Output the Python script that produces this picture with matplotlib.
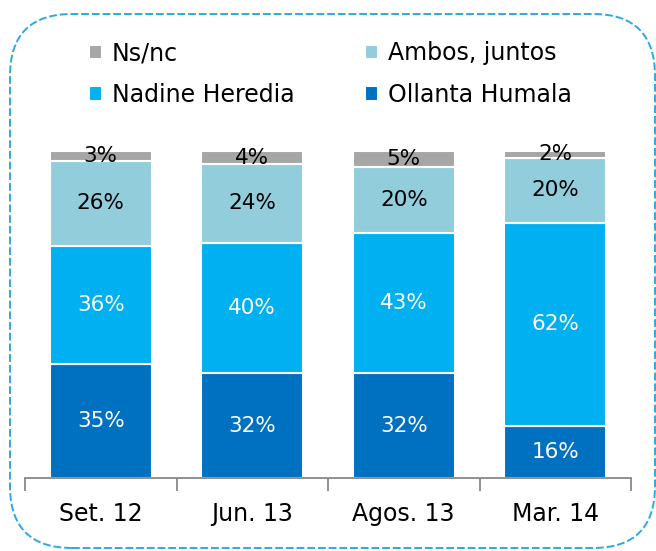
import matplotlib
matplotlib.use('Agg')
import matplotlib.pyplot as plt
import numpy as np
from matplotlib.patches import FancyBboxPatch

plt.rcParams['font.family'] = ['DejaVu Sans']

# Datos
categorias = ['Set. 12', 'Jun. 13', 'Agos. 13', 'Mar. 14']
ollanta = [35, 32, 32, 16]
nadine = [36, 40, 43, 62]
ambos = [26, 24, 20, 20]
nsnc = [3, 4, 5, 2]

series = [
    ('Ollanta Humala', ollanta, '#0070C0', 'white'),
    ('Nadine Heredia', nadine, '#00B0F0', 'white'),
    ('Ambos, juntos', ambos, '#92CDDC', 'black'),
    ('Ns/nc', nsnc, '#A6A6A6', 'black'),
]

fig = plt.figure(figsize=(6.56, 5.51), dpi=100)

# Marco redondeado punteado (en pixeles)
bg = fig.add_axes([0, 0, 1, 1])
bg.set_xlim(0, 656)
bg.set_ylim(0, 551)
bg.axis('off')
marco = FancyBboxPatch((10, 3), 645, 534, boxstyle='round,pad=0,rounding_size=62',
                       fill=False, edgecolor='#2AAAE4', linestyle=(0, (4, 1.5)), linewidth=1.4)
bg.add_patch(marco)

ax = fig.add_axes([25 / 656, 73 / 551, 606 / 656, 327 / 551])
x = np.arange(len(categorias))
bottom = np.zeros(len(categorias))
handles = {}
for nombre, vals, color, tcolor in series:
    vals = np.array(vals, dtype=float)
    b = ax.bar(x, vals, bottom=bottom, width=0.67, color=color, edgecolor='white', linewidth=1.5)
    handles[nombre] = b
    for xi, v, b0 in zip(x, vals, bottom):
        ax.text(xi, b0 + v / 2, f'{int(v)}%', ha='center', va='center', fontsize=15.5, color=tcolor)
    bottom += vals

ax.set_xlim(-0.5, len(categorias) - 0.5)
ax.set_ylim(0, 100)
for s in ['top', 'right', 'left']:
    ax.spines[s].set_visible(False)
ax.spines['bottom'].set_color('#888888')
ax.spines['bottom'].set_linewidth(1.3)
ax.set_yticks([])
ax.set_xticks(np.arange(-0.5, len(categorias)), minor=False)
ax.set_xticklabels([])
ax.tick_params(axis='x', which='major', length=9, width=1.3, color='#888888', direction='out')
ax.set_xticks(x, minor=True)
ax.set_xticklabels(categorias, minor=True, fontsize=17)
ax.tick_params(axis='x', which='minor', length=0, pad=17)

# columnas: Ns/nc, Nadine | Ambos, Ollanta
orden = ['Ns/nc', 'Nadine Heredia', 'Ambos, juntos', 'Ollanta Humala']
fig.legend([handles[n] for n in orden], orden, ncol=2, loc='upper left',
           bbox_to_anchor=(68 / 656, 1 - 20 / 551), frameon=False, fontsize=17,
           handlelength=0.55, handleheight=0.55, handletextpad=0.4,
           columnspacing=3.0, labelspacing=0.75)

fig.savefig('out.png', dpi=100)
